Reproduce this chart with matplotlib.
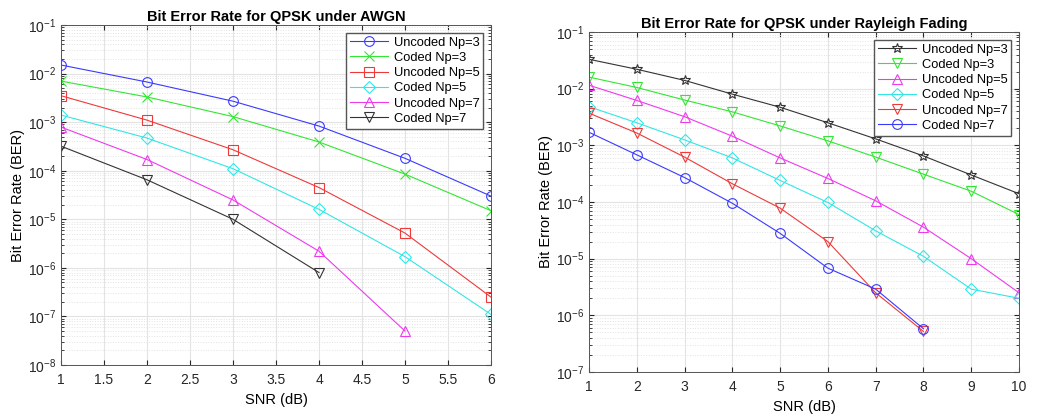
import numpy as np
import matplotlib
matplotlib.use("Agg")
import matplotlib.pyplot as plt
from matplotlib.ticker import FixedLocator, NullFormatter, LogFormatterSciNotation

plt.rcParams["font.family"] = ["Liberation Sans", "DejaVu Sans"]

# AWGN panel
snr_awgn = [1, 2, 3, 4, 5, 6]
awgn_uncoded_np3 = [1.5e-2, 6.7e-3, 2.7e-3, 8.3e-4, 1.8e-4, 3.0e-5]
awgn_coded_np3 = [7.0e-3, 3.3e-3, 1.3e-3, 3.9e-4, 8.5e-5, 1.5e-5]
awgn_uncoded_np5 = [3.5e-3, 1.1e-3, 2.7e-4, 4.5e-5, 5.2e-6, 2.5e-7]
awgn_coded_np5 = [1.4e-3, 4.7e-4, 1.1e-4, 1.6e-5, 1.7e-6, 1.1e-7]
awgn_uncoded_np7 = [7.9e-4, 1.7e-4, 2.5e-5, 2.2e-6, 5.0e-8]
awgn_coded_np7 = [3.2e-4, 6.5e-5, 1.0e-5, 8.0e-7]

# Rayleigh panel
snr_ray = [1, 2, 3, 4, 5, 6, 7, 8, 9, 10]
ray_uncoded_np3 = [3.3e-2, 2.2e-2, 1.4e-2, 8.0e-3, 4.7e-3, 2.5e-3, 1.3e-3, 6.5e-4, 3.0e-4, 1.4e-4]
ray_coded_np3 = [1.6e-2, 1.05e-2, 6.3e-3, 3.9e-3, 2.2e-3, 1.2e-3, 6.2e-4, 3.1e-4, 1.55e-4, 6.0e-5]
ray_uncoded_np5 = [1.15e-2, 6.2e-3, 3.2e-3, 1.45e-3, 6.0e-4, 2.6e-4, 1.05e-4, 3.6e-5, 1.0e-5, 2.5e-6]
ray_coded_np5 = [4.8e-3, 2.5e-3, 1.25e-3, 6.0e-4, 2.4e-4, 9.8e-5, 3.1e-5, 1.1e-5, 2.9e-6, 2.0e-6]
ray_uncoded_np7 = [3.7e-3, 1.65e-3, 6.2e-4, 2.1e-4, 7.8e-5, 2.0e-5, 2.5e-6, 5.2e-7]
ray_coded_np7 = [1.7e-3, 6.8e-4, 2.7e-4, 9.5e-5, 2.8e-5, 6.8e-6, 2.9e-6, 5.8e-7]

labels = ["Uncoded Np=3", "Coded Np=3", "Uncoded Np=5",
          "Coded Np=5", "Uncoded Np=7", "Coded Np=7"]

BLUE = "#3a3aff"
GREEN = "#33e633"
RED = "#ee3a3a"
CYAN = "#33e6e6"
MAGENTA = "#ee3aee"
BLACK = "#333333"


def style_axes(ax, title, xlim, decades):
    lo, hi = decades
    ax.set_yscale("log")
    ax.set_xlim(*xlim)
    ax.set_ylim(10.0 ** lo, 10.0 ** hi)
    exps = np.arange(lo, hi + 1)
    ax.yaxis.set_major_locator(FixedLocator(10.0 ** exps))
    ax.yaxis.set_major_formatter(LogFormatterSciNotation())
    minors = [m * 10.0 ** e for e in exps[:-1] for m in range(2, 10)]
    ax.yaxis.set_minor_locator(FixedLocator(minors))
    ax.yaxis.set_minor_formatter(NullFormatter())
    ax.grid(True, which="major", color="#e3e3e3", linewidth=0.8)
    ax.grid(True, which="minor", axis="y", color="#e3e3e3", linewidth=0.7, linestyle=":")
    ax.set_axisbelow(True)
    ax.set_title(title, fontsize=10.5, fontweight="bold", pad=3)
    ax.set_xlabel("SNR (dB)", fontsize=10.5, labelpad=4)
    ax.set_ylabel("Bit Error Rate (BER)", fontsize=10.5, labelpad=2)
    ax.tick_params(axis="both", which="both", direction="in", labelsize=10,
                   top=True, right=True, colors="#262626")
    ax.tick_params(axis="x", which="major", pad=6)
    ax.tick_params(axis="both", which="minor", length=2)
    for s in ax.spines.values():
        s.set_color("#555555")
        s.set_linewidth(0.7)


fig = plt.figure(figsize=(10.38, 4.15), dpi=100)
ax1 = fig.add_axes([61 / 1038, 1 - 365 / 415, 430 / 1038, 340 / 415])
ax2 = fig.add_axes([589 / 1038, 1 - 372 / 415, 430 / 1038, 340 / 415])

lw = 0.8
mk = dict(markerfacecolor="none", markeredgewidth=0.8, markersize=7, linewidth=lw)
mk_d = dict(mk, markersize=6)
leg = dict(loc="upper right", fontsize=9.3, fancybox=False, framealpha=1,
           edgecolor="#555555", borderpad=0.3, labelspacing=0.25, handlelength=3.0,
           handletextpad=0.4, borderaxespad=0.6)

ax1.plot(snr_awgn, awgn_uncoded_np3, "-o", color=BLUE, **mk)
ax1.plot(snr_awgn, awgn_coded_np3, "-x", color=GREEN, **mk)
ax1.plot(snr_awgn, awgn_uncoded_np5, "-s", color=RED, **mk)
ax1.plot(snr_awgn, awgn_coded_np5, "-D", color=CYAN, **mk_d)
ax1.plot(snr_awgn[:5], awgn_uncoded_np7, "-^", color=MAGENTA, **mk)
ax1.plot(snr_awgn[:4], awgn_coded_np7, "-v", color=BLACK, **mk)
style_axes(ax1, "Bit Error Rate for QPSK under AWGN", (1, 6), (-8, -1))
ax1.set_xticks(np.arange(1, 6.01, 0.5))
ax1.set_xticklabels(["1", "1.5", "2", "2.5", "3", "3.5", "4", "4.5", "5", "5.5", "6"])
ax1.legend(labels, **leg)

ax2.plot(snr_ray, ray_uncoded_np3, "-*", color=BLACK, **mk)
ax2.plot(snr_ray, ray_coded_np3, "-v", color=GREEN, **mk)
ax2.plot(snr_ray, ray_uncoded_np5, "-^", color=MAGENTA, **mk)
ax2.plot(snr_ray, ray_coded_np5, "-D", color=CYAN, **mk_d)
ax2.plot(snr_ray[:8], ray_uncoded_np7, "-v", color=RED, **mk)
ax2.plot(snr_ray[:8], ray_coded_np7, "-o", color=BLUE, **mk)
style_axes(ax2, "Bit Error Rate for QPSK under Rayleigh Fading", (1, 10), (-7, -1))
ax2.set_xticks(snr_ray)
ax2.legend(labels, **leg)

fig.savefig("out.png", dpi=100, facecolor="white")
